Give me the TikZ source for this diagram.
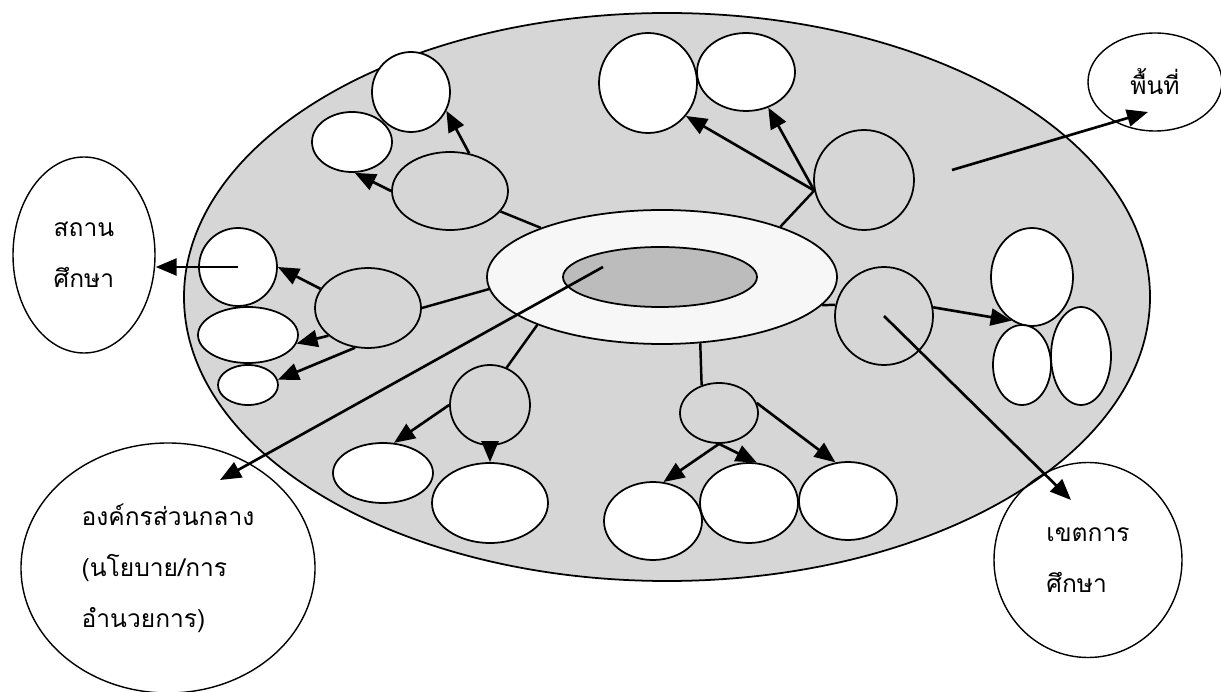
\documentclass[tikz,border=0pt]{standalone}
\usepackage{fontspec}
\newfontfamily\thaifont[Script=Thai]{Loma}
\definecolor{areagray}{RGB}{214,214,214}
\definecolor{bandgray}{RGB}{236,236,236}
\definecolor{ringwhite}{RGB}{247,247,247}
\definecolor{coregray}{RGB}{188,188,188}
\usetikzlibrary{arrows.meta,shapes.geometric}

\begin{document}
\begin{tikzpicture}[x=0.02cm, y=-0.02cm,
  blob/.style 2 args={draw, ellipse, line width=1pt, inner sep=0pt, minimum width=#1*0.02cm, minimum height=#2*0.02cm},
  leaf/.style={fill=white},
  tag/.style={fill=white, line width=0.8pt, align=left, font=\thaifont\fontsize{14}{29}\selectfont},
  link/.style={line width=1.4pt},
  arr/.style={line width=1.5pt, -{Triangle[length=0.42cm, width=0.34cm]}}]
  \useasboundingbox (0,0) rectangle (1221,692);
  % Area background
  \node[blob={966}{568}, draw=none, left color=areagray, middle color=bandgray, right color=areagray] (area) at (667,297) {};
  % Outside labels
  \node[blob={142}{196}, tag] (schoolLbl) at (84,255) {สถาน\\ศึกษา};
  \node[blob={294}{250}, tag] (centralLbl) at (168,568) {องค์กรส่วนกลาง\\(นโยบาย/การ\\อำนวยการ)};
  \node[blob={188}{195}, tag] (districtLbl) at (1088,560) {เขตการ\\ศึกษา};
  \node[blob={134}{98}, tag] (spaceLbl) at (1155,82) {พื้นที่};
  \node[blob={966}{568}] (rim) at (area) {};
  % Centre
  \node[blob={350}{134}, fill=ringwhite] (ring) at (662,277) {};
  \node[blob={194}{60}, fill=coregray] (core) at (660,277) {};
  % Hubs
  \node[blob={116}{78}] (hubNW) at (450,191) {};
  \node[blob={106}{80}] (hubW) at (368,308) {};
  \node[blob={80}{80}] (hubSW) at (490,405) {};
  \node[blob={78}{60}] (hubS) at (719,413) {};
  \node[blob={98}{98}] (hubE) at (884,316) {};
  \node[blob={100}{100}] (hubNE) at (864,180) {};
  % Leaves, upper left
  \node[blob={78}{80}, leaf] (nwA) at (411,92) {};
  \node[blob={80}{60}, leaf] (nwB) at (352,142) {};
  % Leaves, left
  \node[blob={78}{78}, leaf] (wA) at (238,267) {};
  \node[blob={100}{56}, leaf] (wB) at (248,335) {};
  \node[blob={60}{40}, leaf] (wC) at (248,385) {};
  % Leaves, lower left
  \node[blob={100}{60}, leaf] (swA) at (383,473) {};
  \node[blob={116}{80}, leaf] (swB) at (490,503) {};
  % Leaves, bottom
  \node[blob={98}{78}, leaf] (sA) at (653,521) {};
  \node[blob={98}{80}, leaf] (sB) at (749,503) {};
  \node[blob={98}{78}, leaf] (sC) at (848,501) {};
  % Leaves, right
  \node[blob={82}{98}, leaf] (eA) at (1032,277) {};
  \node[blob={58}{80}, leaf] (eB) at (1022,365) {};
  \node[blob={60}{98}, leaf] (eC) at (1081,356) {};
  % Leaves, top
  \node[blob={98}{100}, leaf] (neA) at (648,83) {};
  \node[blob={98}{78}, leaf] (neB) at (746,72) {};
  % Spokes
  \draw[link] (ring) -- (hubNW);
  \draw[link] (ring.184) -- (hubW.east);
  \draw[link] (ring.201) -- (hubSW.66);
  \draw[link] (ring.-60) -- (hubS.122);
  \draw[link] (ring.-10) -- (hubE.167);
  \draw[link] (ring.23) -- (hubNE.192);
  % Arrows
  \draw[arr] (hubNW.63) -- (nwA.-28);
  \draw[arr] (hubNW.west) -- (nwB.-85);
  \draw[arr] (hubW.158) -- (wA.east);
  \draw[arr] (hubW.215) -- (wB.-10);
  \draw[arr] (hubW.252) -- (wC.10);
  \draw[arr] (wA.center) -- (wA.center -| schoolLbl.east);
  \draw[arr] (hubSW.west) -- (swA.70);
  \draw[arr] (hubSW.south) -- (swB.north);
  \draw[arr] (hubS.south) -- (sA.75);
  \draw[arr] (hubS.south) -- (sB.79);
  \draw[arr] (hubS.15) -- (sC.108);
  \draw[arr] (hubE.10) -- (eA.245);
  \draw[arr] (hubE.center) -- ([shift={(-17,-60)}]districtLbl.center);
  \draw[arr] (hubNE.192) -- (neA.-41);
  \draw[arr] (hubNE.192) -- (neB.-58);
  \draw[arr] ([shift={(-57,-10)}]core.center) -- ([shift={(52,-88)}]centralLbl.center);
  \draw[arr] ([shift={(285,-127)}]area.center) -- ([shift={(-7,30)}]spaceLbl.center);
\end{tikzpicture}
\end{document}
